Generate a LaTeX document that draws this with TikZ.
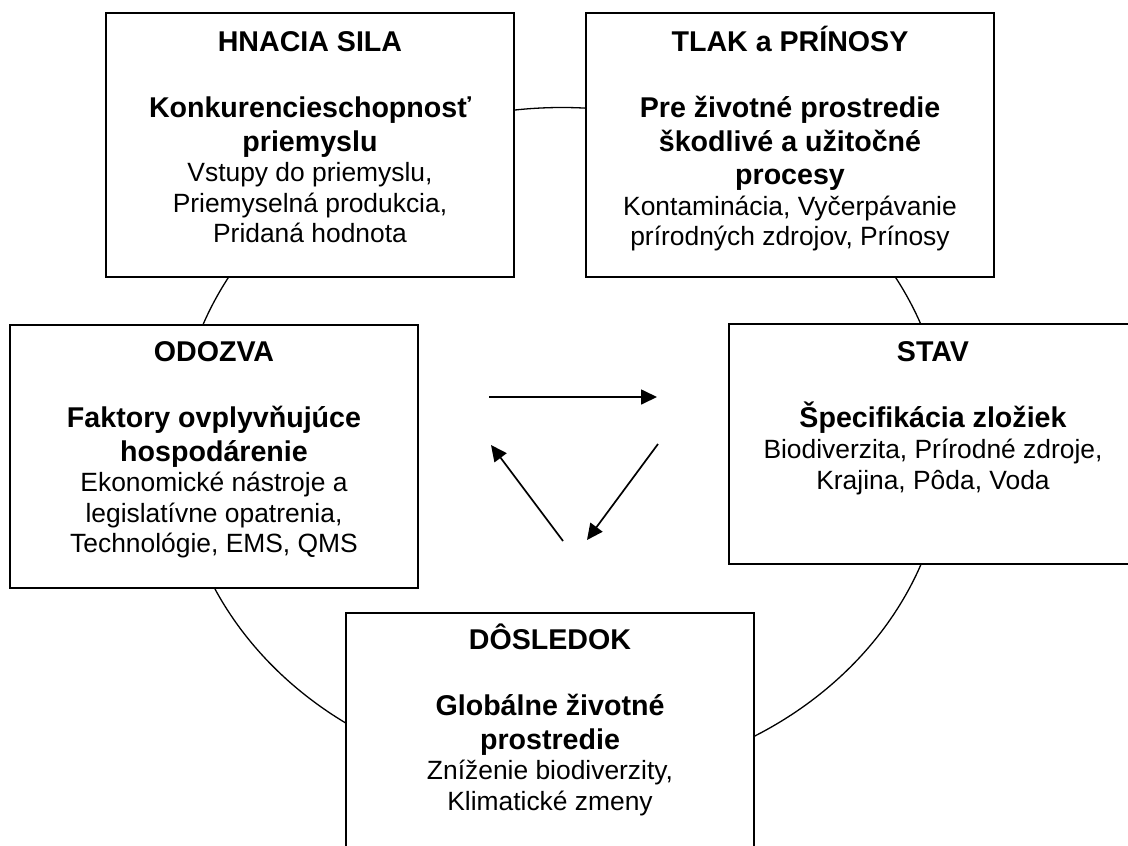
\documentclass[tikz,border=0pt]{standalone}
\usepackage{fontspec}
\setmainfont{Liberation Sans}
\usetikzlibrary{positioning,arrows.meta}

\begin{document}
\begin{tikzpicture}[x=1pt, y=-1pt,
  box/.style={draw, fill=white, line width=2pt, inner sep=0pt,
    minimum width=408pt, minimum height=#1},
  txt/.style={text width=400pt, align=flush center, inner sep=0pt},
  arr/.style={-{Triangle[length=16pt,width=15pt]}, line width=1.7pt}]

\newcommand\TitF{\fontsize{28.6}{33.3}\bfseries
  \spaceskip=\fontdimen2\font\xspaceskip=\fontdimen2\font}
\newcommand\TxtF{\fontsize{26.4}{30.6}\mdseries
  \spaceskip=\fontdimen2\font\xspaceskip=\fontdimen2\font}
\newcommand\Top{\rule{0pt}{28pt}}

\useasboundingbox (0,0) rectangle (1128,846);
\clip (0,0) rectangle (1128,846);
\fill[white] (0,0) rectangle (1128,846);

%% ring behind the boxes
\draw[line width=1.3pt] (562,444.5) ellipse [x radius=384pt, y radius=337pt];

%% boxes
\node[box=264pt] (sila) at (310,145) {};
\node[box=264pt] (tlak) at (790,145) {};
\node[box=263pt] (odozva) at (214,456.5) {};
\node[box=240pt] (stav) at (933,444) {};
\node[box=264pt] (dosledok) at (550,745) {};

\node[txt, below=11pt of sila.north] (silatxt)
{\TitF\Top HNACIA SILA\par\mbox{}\par
 Konkurencieschopnosť\\priemyslu\par
 \TxtF Vstupy do priemyslu,\\Priemyselná produkcia,\\Pridaná hodnota\par};

\node[txt, below=11pt of tlak.north] (tlaktxt)
{\TitF\Top TLAK a PRÍNOSY\par\mbox{}\par
 Pre životné prostredie\\škodlivé a užitočné\\procesy\par
 \TxtF Kontaminácia, Vyčerpávanie\\prírodných zdrojov, Prínosy\par};

\node[txt, below=9pt of odozva.north] (odozvatxt)
{\TitF\Top ODOZVA\par\mbox{}\par
 Faktory ovplyvňujúce\\hospodárenie\par
 \TxtF Ekonomické nástroje a\\legislatívne opatrenia,\\Technológie, EMS, QMS\par};

\node[txt, below=10pt of stav.north] (stavtxt)
{\TitF\Top STAV\par\mbox{}\par
 Špecifikácia zložiek\par
 \TxtF Biodiverzita, Prírodné zdroje,\\Krajina, Pôda, Voda\par};

\node[txt, below=9pt of dosledok.north] (dosledoktxt)
{\TitF\Top DÔSLEDOK\par\mbox{}\par
 Globálne životné\\prostredie\par
 \TxtF Zníženie biodiverzity,\\Klimatické zmeny\par};

%% cycle arrows in the middle
\coordinate (h1) at (489,397);
\coordinate (h2) at (657,397);
\coordinate (d1) at (658,444);
\coordinate (d2) at (587,540);
\coordinate (u1) at (563,541);
\coordinate (u2) at (491,445);

\draw[arr] (h1) -- (h2);
\draw[arr] (d1) -- (d2);
\draw[arr] (u1) -- (u2);

\end{tikzpicture}
\end{document}
